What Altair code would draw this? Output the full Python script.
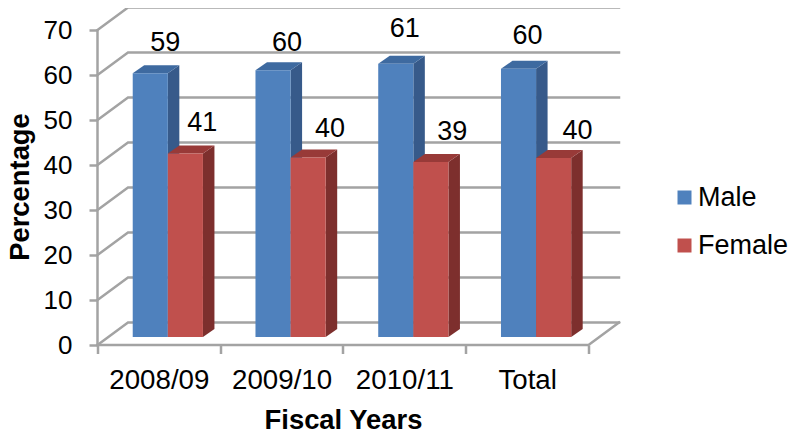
import altair as alt
import pandas as pd

categories = ["2008/09", "2009/10", "2010/11", "Total"]
series = ["Male", "Female"]
male = [58.6, 59.3, 60.7, 59.6]
female = [40.8, 39.9, 38.9, 39.8]
male_labels = [59, 60, 61, 60]
female_labels = [41, 40, 39, 40]
y_ticks = [0, 10, 20, 30, 40, 50, 60, 70]

FONT = "Liberation Sans"
GRID = "#a3a3a3"
FRONT = ["#4f81bd", "#c0504d"]
SIDE = ["#375a8a", "#7d2f2d"]
TOP = ["#3e6aa0", "#983a38"]

# chart geometry in data units
WALL_DX, WALL_DY = 0.2485, 5.0
BAR_DX, BAR_DY = 0.0937, 1.78
BAR_START, BAR_W = 0.287, 0.286
XMAX, YMAX = 4 + WALL_DX, 74.89
PW, PH = 521.5, 337.0
PX_X, PX_Y = 122.75, 4.5  # pixels per data unit
# hand-placed data labels: nudge in pixels (right, down) per series and category
NUDGE = [[(-1, 0), (-2, 3), (-7, -4), (-7, -2)],
         [(1, 0), (6, 2), (5.5, 1), (8, 4)]]

fronts, sides, tops, labels = [], [], [], []
for s, (vals, labs) in enumerate([(male, male_labels), (female, female_labels)]):
    for c, v in enumerate(vals):
        x0 = c + BAR_START + s * BAR_W
        x1 = x0 + BAR_W
        gid = f"{s}-{c}"
        b = BAR_DY
        t = b + v
        fronts.append(dict(series=series[s], x0=x0, x1=x1, b=b, t=t))
        sides += [dict(s=s, g=gid, x=x1, lo=b, hi=t), dict(s=s, g=gid, x=x1 + BAR_DX, lo=b + BAR_DY, hi=t + BAR_DY)]
        tops += [dict(s=s, g=gid, x=x0, lo=t, hi=t), dict(s=s, g=gid, x=x0 + BAR_DX, lo=t, hi=t + BAR_DY),
                 dict(s=s, g=gid, x=x1, lo=t, hi=t + BAR_DY), dict(s=s, g=gid, x=x1 + BAR_DX, lo=t + BAR_DY, hi=t + BAR_DY)]
        nx, ny = NUDGE[s][c]
        labels.append(dict(x=(x0 + x1) / 2 + 0.13 + nx / PX_X, y=t + BAR_DY + 5.0 - ny / PX_Y, v=labs[c]))

grid = []
for v in y_ticks:
    grid += [dict(v=v, o=0, x=0, y=v), dict(v=v, o=1, x=WALL_DX, y=v + WALL_DY), dict(v=v, o=2, x=XMAX, y=v + WALL_DY)]
grid += [dict(v=-1, o=0, x=0, y=0), dict(v=-1, o=1, x=4, y=0), dict(v=-1, o=2, x=XMAX, y=WALL_DY)]

xs = alt.Scale(domain=[0, XMAX], nice=False, zero=False)
ys = alt.Scale(domain=[0, YMAX], nice=False, zero=False)
cat_map = "{" + ",".join(f"'{i + 0.5}':'{c}'" for i, c in enumerate(categories)) + "}"

x_ticks = alt.Axis(values=[0, 1, 2, 3, 4], labels=False, title=None, domain=False, grid=False,
                   tickSize=8.5, tickColor=GRID, tickWidth=2.5, orient="bottom")
x_cats = alt.Axis(values=[0.5, 1.5, 2.5, 3.5], labelExpr=f"{cat_map}[datum.value]", domain=False, grid=False,
                  ticks=False, labelPadding=21, labelFont=FONT, labelFontSize=27.7, labelColor="black", labelOverlap=False,
                  orient="bottom",
                  title="Fiscal Years", titleFont=FONT, titleFontSize=27.4, titleFontWeight="bold", titleColor="black",
                  titleX=245.5, titleY=83, titleBaseline="alphabetic", titleAlign="center")
y_axis = alt.Axis(values=y_ticks, domain=False, grid=False, tickSize=8.5, tickColor=GRID, tickWidth=2.5,
                  labelPadding=17, labelFont=FONT, labelFontSize=26, labelColor="black",
                  title="Percentage", titleFont=FONT, titleFontSize=27.4, titleFontWeight="bold", titleColor="black",
                  titleX=-69, titleY=178.5, titleBaseline="alphabetic", titleAlign="center", titleAngle=-90)

base_x = alt.X("x:Q", scale=xs, axis=x_ticks)
base_y = alt.Y("y:Q", scale=ys, axis=y_axis)

grid_layer = alt.Chart(pd.DataFrame(grid)).mark_line(color=GRID, strokeWidth=2.5, strokeCap="square").encode(
    x=base_x, y=base_y, detail="v:N", order="o:Q")
axis_rule = alt.Chart(pd.DataFrame({"x": [0], "y": [0], "y2": [70]})).mark_rule(color=GRID, strokeWidth=2.5).encode(
    x=alt.X("x:Q", scale=xs, axis=x_cats), y=alt.Y("y:Q", scale=ys, axis=None), y2="y2:Q")


def faces(rows, colour):
    return alt.Chart(pd.DataFrame(rows)).mark_area(color=colour, opacity=1, interpolate="linear").encode(
        x=alt.X("x:Q", scale=xs, axis=None),
        y=alt.Y("lo:Q", scale=ys, axis=None, stack=None),
        y2="hi:Q",
        detail="g:N",
    )


layers = [grid_layer, axis_rule]
for s in range(2):
    layers.append(faces([r for r in sides if r["s"] == s], SIDE[s]))
    layers.append(faces([r for r in tops if r["s"] == s], TOP[s]))

front_layer = alt.Chart(pd.DataFrame(fronts)).mark_rect(opacity=1).encode(
    x=alt.X("x0:Q", scale=xs, axis=None),
    x2="x1:Q",
    y=alt.Y("b:Q", scale=ys, axis=None),
    y2="t:Q",
    color=alt.Color("series:N", scale=alt.Scale(domain=series, range=FRONT),
                    legend=alt.Legend(orient="none", legendX=573.5, legendY=176, title=None,
                                      symbolType="square", symbolSize=196, symbolStrokeWidth=0,
                                      labelFont=FONT, labelFontSize=27, labelColor="black",
                                      labelOffset=0, rowPadding=20, labelLimit=200)),
)
layers.append(front_layer)

text_layer = alt.Chart(pd.DataFrame(labels)).mark_text(font=FONT, fontSize=27, color="black", baseline="middle").encode(
    x=alt.X("x:Q", scale=xs, axis=None), y=alt.Y("y:Q", scale=ys, axis=None), text="v:Q")
layers.append(text_layer)

chart = alt.layer(*layers).resolve_axis(x="independent", y="independent").properties(
    width=PW, height=PH,
    autosize=alt.AutoSizeParams(type="none"),
    padding={"left": 89.5, "top": 0, "right": 169, "bottom": 90},
).configure_view(stroke=None)

chart.save("out.html", embed_options={"renderer": "svg", "actions": False})
